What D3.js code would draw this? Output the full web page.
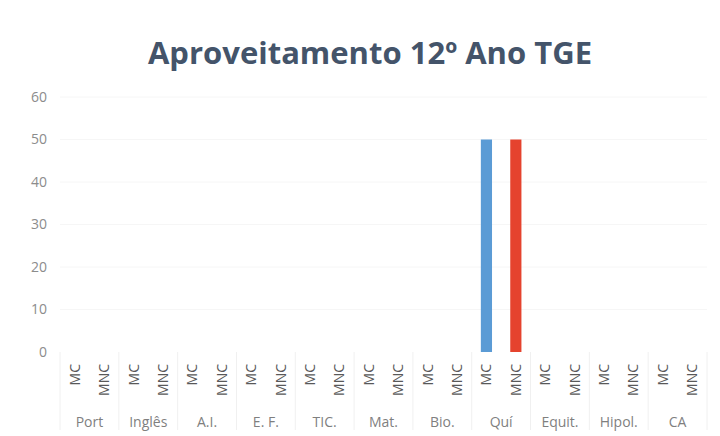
<!DOCTYPE html>
<html>
<head>
<meta charset="utf-8">
<script src="https://cdn.jsdelivr.net/npm/d3@7"></script>
<style>
  body { margin: 0; background: #fff; }
  svg { display: block; }
</style>
</head>
<body>
<script>
// chart data
var subjects = ["Port", "Inglês", "A.I.", "E. F.", "TIC.", "Mat.", "Bio.", "Quí", "Equit.", "Hipol.", "CA"];
var subCats = ["MC", "MNC"];
var mcValues = [0, 0, 0, 0, 0, 0, 0, 50, 0, 0, 0];
var mncValues = [0, 0, 0, 0, 0, 0, 0, 50, 0, 0, 0];
var yTicks = [0, 10, 20, 30, 40, 50, 60];

var svgWidth = 720;
var svgHeight = 436;

var margin = { top: 97, right: 13, bottom: 84, left: 60 };
var chartWidth = svgWidth - margin.left - margin.right;
var chartHeight = svgHeight - margin.top - margin.bottom;

var svg = d3.select("body")
  .append("svg")
  .attr("width", svgWidth)
  .attr("height", svgHeight);

svg.append("text")
  .attr("x", 370)
  .attr("y", 64)
  .attr("text-anchor", "middle")
  .style("font-family", "'Open Sans', sans-serif")
  .style("font-weight", "bold")
  .style("font-size", "31px")
  .style("fill", "#44546a")
  .text("Aproveitamento 12º Ano TGE");

var chartGroup = svg.append("g")
  .attr("transform", `translate(${margin.left}, ${margin.top})`);

// scales
var xGroup = d3.scaleBand()
  .domain(subjects)
  .range([0, chartWidth]);

var xSub = d3.scaleBand()
  .domain(subCats)
  .range([0, xGroup.bandwidth()])
  .paddingInner(0.62)
  .paddingOuter(0.31);

var yScale = d3.scaleLinear()
  .domain([0, 60])
  .range([chartHeight, 0]);

// faint gridlines
chartGroup.selectAll(".grid")
  .data(yTicks.slice(1))
  .enter()
  .append("line")
  .attr("x1", 0)
  .attr("x2", chartWidth)
  .attr("y1", d => yScale(d))
  .attr("y2", d => yScale(d))
  .attr("stroke", "#f6f6f6")
  .attr("stroke-width", 1);

// y axis labels
var leftAxis = d3.axisLeft(yScale).tickValues(yTicks).tickSize(0).tickPadding(13);
var yAxisG = chartGroup.append("g").call(leftAxis);
yAxisG.select(".domain").remove();
yAxisG.selectAll("text")
  .style("font-family", "'Open Sans', sans-serif")
  .style("font-size", "14px")
  .style("fill", "#8c8c8c");

// group separators
var seps = subjects.map(s => xGroup(s)).concat([chartWidth]);
chartGroup.selectAll(".sep")
  .data(seps)
  .enter()
  .append("line")
  .attr("x1", d => d)
  .attr("x2", d => d)
  .attr("y1", chartHeight)
  .attr("y2", chartHeight + 78)
  .attr("stroke", "#f0f0f0")
  .attr("stroke-width", 1);

// bars
var rows = [];
subjects.forEach(function(s, i) {
  rows.push({ subject: s, sub: "MC", value: mcValues[i], color: "#5b9bd5" });
  rows.push({ subject: s, sub: "MNC", value: mncValues[i], color: "#e5432e" });
});

chartGroup.selectAll(".bar")
  .data(rows.filter(d => d.value > 0))
  .enter()
  .append("rect")
  .attr("x", d => xGroup(d.subject) + xSub(d.sub))
  .attr("y", d => yScale(d.value))
  .attr("width", xSub.bandwidth())
  .attr("height", d => chartHeight - yScale(d.value))
  .attr("fill", d => d.color);

// sub category labels
chartGroup.selectAll(".subLabel")
  .data(rows)
  .enter()
  .append("text")
  .attr("transform", function(d) {
    var x = xGroup(d.subject) + xSub(d.sub) + xSub.bandwidth() / 2 + 5;
    return `translate(${x}, ${chartHeight + 12}) rotate(-90)`;
  })
  .attr("text-anchor", "end")
  .style("font-family", "'Open Sans', sans-serif")
  .style("font-size", "14px")
  .style("fill", "#595959")
  .text(d => d.sub);

// group labels
chartGroup.selectAll(".groupLabel")
  .data(subjects)
  .enter()
  .append("text")
  .attr("x", d => xGroup(d) + xGroup.bandwidth() / 2)
  .attr("y", chartHeight + 75)
  .attr("text-anchor", "middle")
  .style("font-family", "'Open Sans', sans-serif")
  .style("font-size", "14px")
  .style("fill", "#7f7f7f")
  .text(d => d);
</script>
</body>
</html>
